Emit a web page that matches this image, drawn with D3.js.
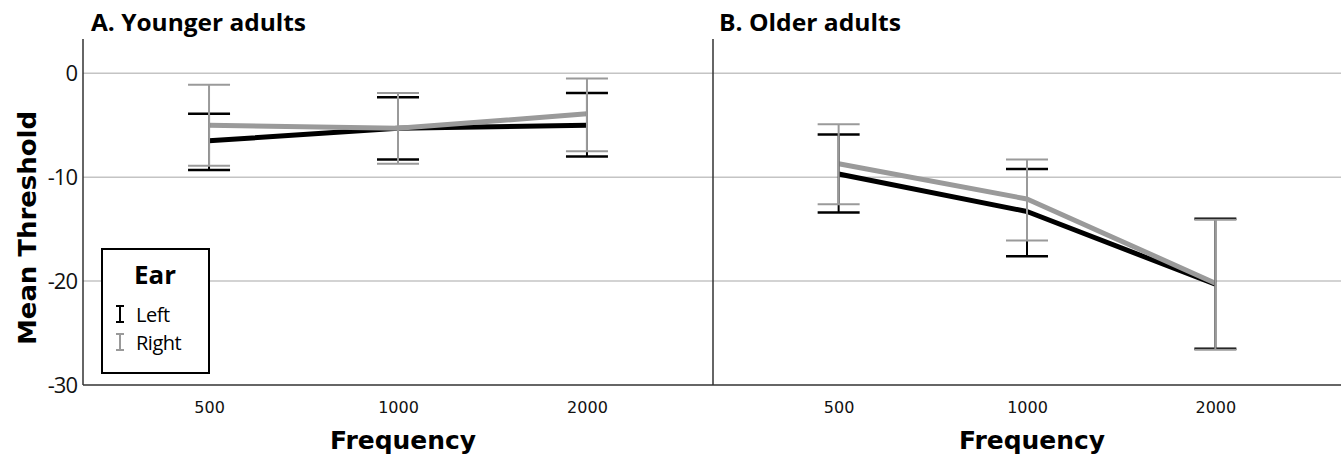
<!DOCTYPE html>
<html>
<head>
<meta charset="utf-8">
<script src="https://cdn.jsdelivr.net/npm/d3@7"></script>
<style>
  body { margin: 0; background: #fff; }
  svg { display: block; }
</style>
</head>
<body>
<svg id="chart"></svg>
<script>
// ===== data =====
var frequencies = ["500", "1000", "2000"];
var yTicks = [0, -10, -20, -30];
var panelTitles = ["A. Younger adults", "B. Older adults"];
var earNames = ["Left", "Right"];

var youngLeftMean = [-6.5, -5.3, -5.0];
var youngLeftLow = [-9.3, -8.3, -8.0];
var youngLeftHigh = [-3.9, -2.3, -1.9];
var youngRightMean = [-5.0, -5.3, -3.9];
var youngRightLow = [-8.9, -8.7, -7.5];
var youngRightHigh = [-1.1, -1.9, -0.5];

var olderLeftMean = [-9.7, -13.3, -20.3];
var olderLeftLow = [-13.4, -17.6, -26.5];
var olderLeftHigh = [-5.9, -9.2, -14.0];
var olderRightMean = [-8.7, -12.1, -20.2];
var olderRightLow = [-12.6, -16.1, -26.6];
var olderRightHigh = [-4.9, -8.3, -14.1];

// ===== layout =====
var svgWidth = 1341;
var svgHeight = 458;
var plotTop = 39;
var plotBottom = 385;
var panelX = [[83, 713], [713, 1341]];
var earColors = ["#000000", "#9a9a9a"];

var svg = d3.select("#chart")
  .attr("width", svgWidth)
  .attr("height", svgHeight);

var yScale = d3.scaleLinear()
  .domain([-30, 3.3])
  .range([plotBottom, plotTop]);

// gridlines across both panels
svg.append("g")
  .selectAll("line")
  .data(yTicks.filter(function (d) { return d > -30; }))
  .enter()
  .append("line")
  .attr("x1", panelX[0][0])
  .attr("x2", svgWidth)
  .attr("y1", function (d) { return yScale(d); })
  .attr("y2", function (d) { return yScale(d); })
  .attr("stroke", "#c4c4c4")
  .attr("stroke-width", 1.5);

// y axis (left panel only)
var y_axis = d3.axisLeft(yScale)
  .tickValues(yTicks)
  .tickFormat(function (d) { return String(d); })
  .tickSize(0)
  .tickPadding(6);

var yG = svg.append("g")
  .attr("transform", "translate(" + panelX[0][0] + ",0)")
  .call(y_axis);
yG.select(".domain").remove();
yG.selectAll("text")
  .style("font-family", "'Open Sans', sans-serif")
  .style("font-size", "22px")
  .style("letter-spacing", "-1px")
  .attr("fill", "#111");

// y axis title
svg.append("text")
  .attr("transform", "rotate(-90)")
  .attr("x", -228)
  .attr("y", 36)
  .style("text-anchor", "middle")
  .style("font-family", "'DejaVu Sans', sans-serif")
  .style("font-weight", "bold")
  .style("font-size", "25px")
  .attr("textLength", 234)
  .attr("lengthAdjust", "spacingAndGlyphs")
  .text("Mean Threshold");

// ===== panels =====
var panels = [
  { means: [youngLeftMean, youngRightMean], lows: [youngLeftLow, youngRightLow], highs: [youngLeftHigh, youngRightHigh] },
  { means: [olderLeftMean, olderRightMean], lows: [olderLeftLow, olderRightLow], highs: [olderLeftHigh, olderRightHigh] }
];
var titleWidths = [215, 182];

panels.forEach(function (panel, p) {
  var xScale = d3.scalePoint()
    .domain(frequencies)
    .range(panelX[p])
    .padding(0.667);

  var g = svg.append("g");

  // left border of the panel
  g.append("line")
    .attr("x1", panelX[p][0]).attr("x2", panelX[p][0])
    .attr("y1", plotTop).attr("y2", plotBottom)
    .attr("stroke", "#333").attr("stroke-width", 1.5);

  // x axis
  var x_axis = d3.axisBottom(xScale).tickSize(0).tickPadding(17);
  var xG = g.append("g")
    .attr("transform", "translate(0," + plotBottom + ")")
    .call(x_axis);
  xG.select(".domain")
    .attr("stroke", "#333")
    .attr("stroke-width", 1.5)
    .attr("d", "M" + panelX[p][0] + ",0H" + panelX[p][1]);
  xG.selectAll("text")
    .style("font-family", "'DejaVu Sans', sans-serif")
    .style("font-size", "16px")
    .attr("fill", "#111");

  // x axis title
  g.append("text")
    .attr("x", (panelX[p][0] + panelX[p][1]) / 2 + 5)
    .attr("y", 449)
    .style("text-anchor", "middle")
    .style("font-family", "'DejaVu Sans', sans-serif")
    .style("font-weight", "bold")
    .style("font-size", "25px")
    .attr("textLength", 146)
    .attr("lengthAdjust", "spacingAndGlyphs")
    .text("Frequency");

  // panel title
  g.append("text")
    .attr("x", panelX[p][0] + (p === 0 ? 8 : 6))
    .attr("y", 31)
    .style("font-family", "'Open Sans', sans-serif")
    .style("font-weight", "bold")
    .style("font-size", "24px")
    .attr("textLength", titleWidths[p])
    .attr("lengthAdjust", "spacingAndGlyphs")
    .text(panelTitles[p]);

  // mean lines: black first, gray on top
  [0, 1].forEach(function (e) {
    var line = d3.line()
      .x(function (d, i) { return xScale(frequencies[i]); })
      .y(function (d) { return yScale(d); });
    g.append("path")
      .datum(panel.means[e])
      .attr("d", line)
      .attr("fill", "none")
      .attr("stroke", earColors[e])
      .attr("stroke-width", 5)
      .attr("stroke-linejoin", "round");
  });

  // error bars
  [0, 1].forEach(function (e) {
    var bars = g.append("g").selectAll("g")
      .data(frequencies)
      .enter()
      .append("g");
    bars.append("line")
      .attr("x1", function (d) { return xScale(d); })
      .attr("x2", function (d) { return xScale(d); })
      .attr("y1", function (d, i) { return yScale(panel.lows[e][i]); })
      .attr("y2", function (d, i) { return yScale(panel.highs[e][i]); })
      .attr("stroke", earColors[e])
      .attr("stroke-width", 2);
    [panel.lows[e], panel.highs[e]].forEach(function (vals) {
      bars.append("line")
        .attr("x1", function (d) { return xScale(d) - 21; })
        .attr("x2", function (d) { return xScale(d) + 21; })
        .attr("y1", function (d, i) { return yScale(vals[i]); })
        .attr("y2", function (d, i) { return yScale(vals[i]); })
        .attr("stroke", earColors[e])
        .attr("stroke-width", e === 0 ? 2.5 : 2);
    });
  });
});

// ===== legend =====
var legend = svg.append("g").attr("transform", "translate(102,249)");
legend.append("rect")
  .attr("width", 107).attr("height", 124)
  .attr("fill", "#fff")
  .attr("stroke", "#000").attr("stroke-width", 2);
legend.append("text")
  .attr("x", 53).attr("y", 35)
  .style("text-anchor", "middle")
  .style("font-family", "'Open Sans', sans-serif")
  .style("font-weight", "bold")
  .style("font-size", "25px")
  .attr("textLength", 42)
  .attr("lengthAdjust", "spacingAndGlyphs")
  .text("Ear");
earNames.forEach(function (name, e) {
  var ly = 57 + e * 28;
  var sym = legend.append("g").attr("transform", "translate(18," + ly + ")");
  sym.append("line").attr("x1", 0).attr("x2", 0).attr("y1", 0).attr("y2", 16)
    .attr("stroke", earColors[e]).attr("stroke-width", 2);
  sym.append("line").attr("x1", -4).attr("x2", 4).attr("y1", 0).attr("y2", 0)
    .attr("stroke", earColors[e]).attr("stroke-width", 2);
  sym.append("line").attr("x1", -4).attr("x2", 4).attr("y1", 16).attr("y2", 16)
    .attr("stroke", earColors[e]).attr("stroke-width", 2);
  legend.append("text")
    .attr("x", 34).attr("y", ly + 16)
    .style("font-family", "'Open Sans', sans-serif")
    .style("font-size", "20px")
    .style("letter-spacing", "-0.5px")
    .text(name);
});
</script>
</body>
</html>
